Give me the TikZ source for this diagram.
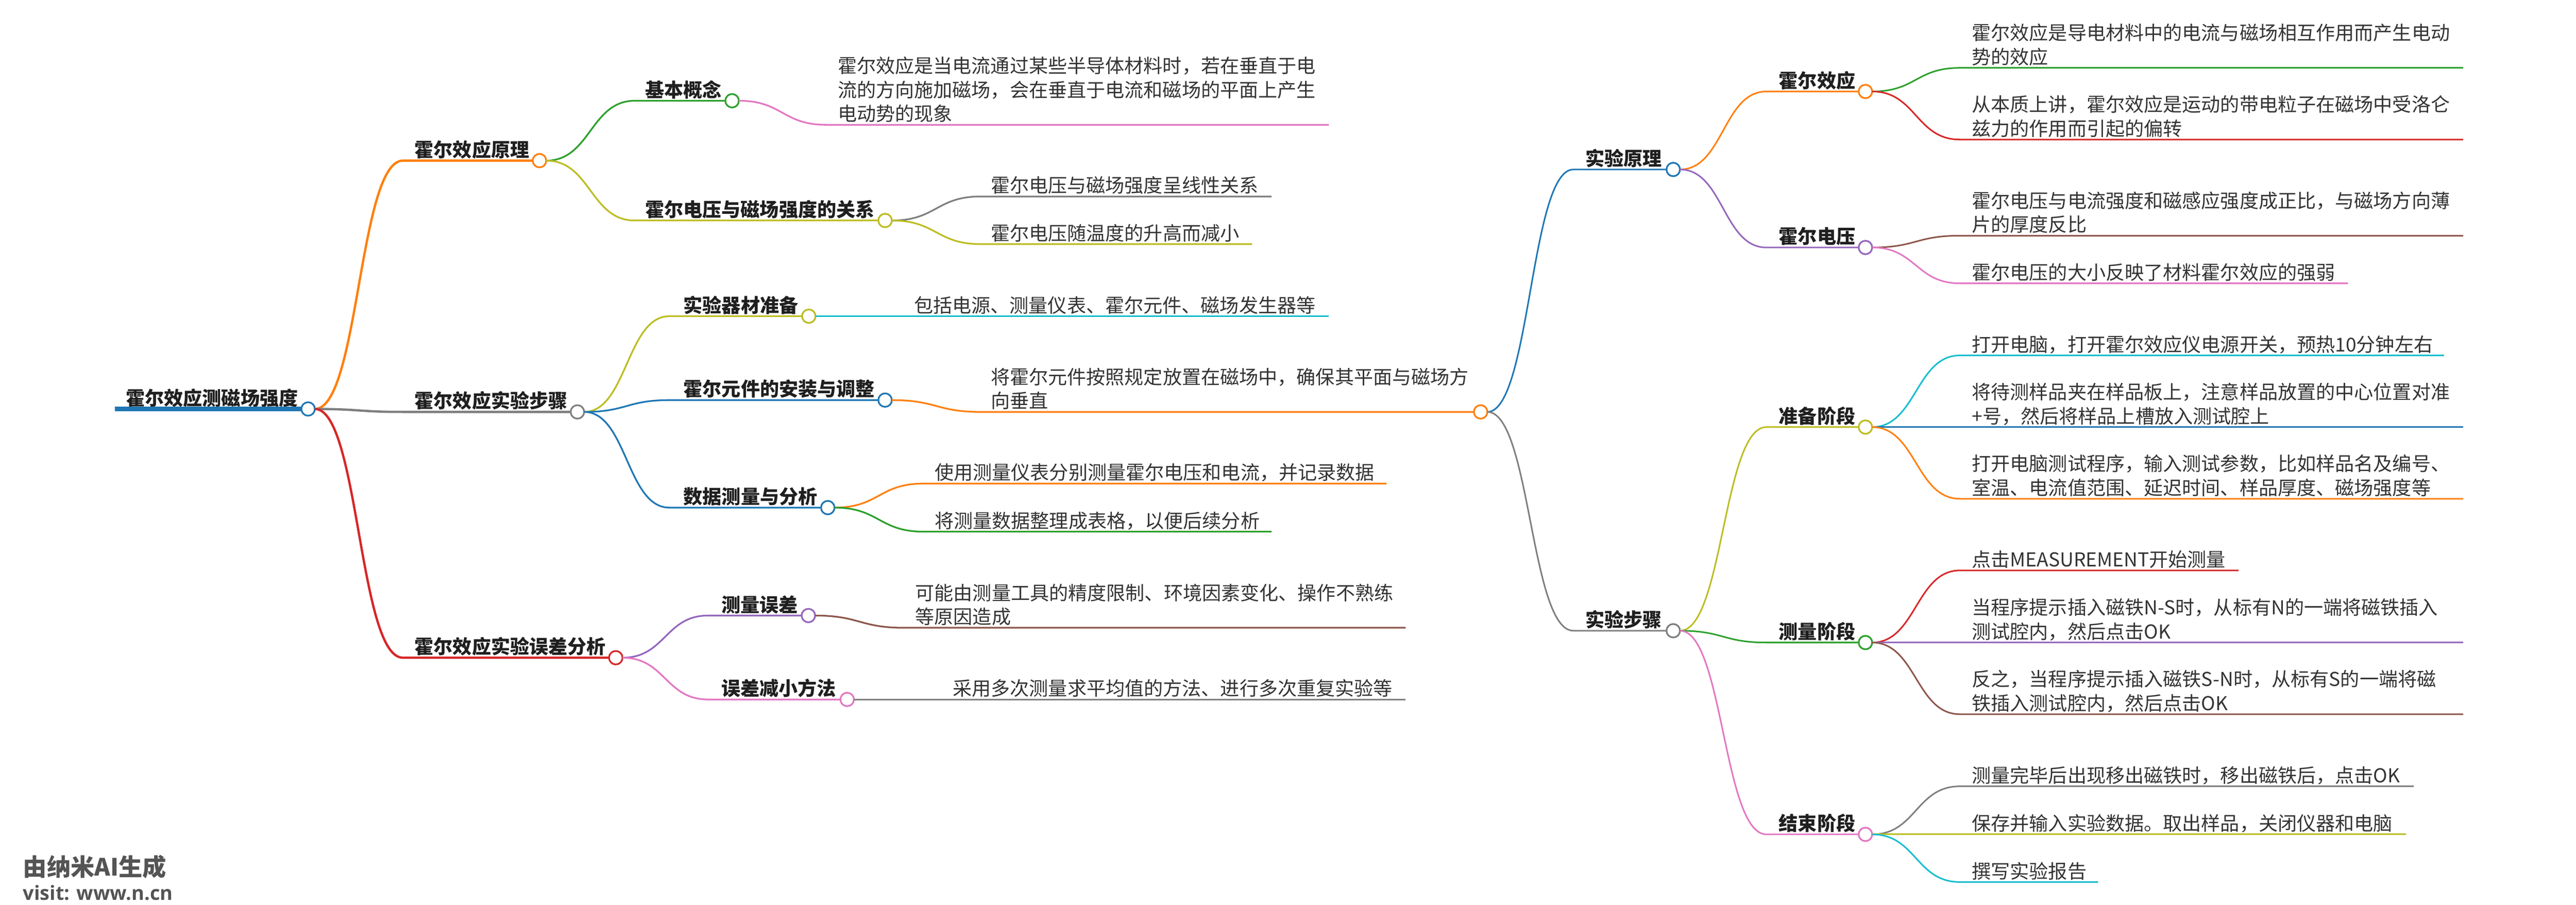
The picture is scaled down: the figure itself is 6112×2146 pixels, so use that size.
\documentclass[tikz,border=0pt]{standalone}
\usepackage{fontspec}
\setmainfont{Noto Sans CJK SC}
\newfontfamily\brandfont{Open Sans}
\usetikzlibrary{calc,positioning}

\definecolor{cblue}{HTML}{1F77B4}
\definecolor{corange}{HTML}{FF7F0E}
\definecolor{cgreen}{HTML}{2CA02C}
\definecolor{cred}{HTML}{D62728}
\definecolor{cpurple}{HTML}{9467BD}
\definecolor{cbrown}{HTML}{8C564B}
\definecolor{cpink}{HTML}{E377C2}
\definecolor{cgray}{HTML}{7F7F7F}
\definecolor{colive}{HTML}{BCBD22}
\definecolor{ccyan}{HTML}{17BECF}

\tikzset{
    dot/.style={circle,draw=#1,fill=white,line width=0.04cm,minimum size=0.32cm,inner sep=0pt,outer sep=0pt},
    head/.style={anchor=base west,inner sep=0pt,yshift=0.09cm,text=black!88,font=\fontsize{12.9pt}{16.2pt}\selectfont\bfseries},
    body/.style={anchor=base west,inner sep=0pt,yshift=0.09cm,text=black!80,align=left,font=\fontsize{12.9pt}{16.2pt}\selectfont},
    brand/.style={anchor=west,inner sep=0pt,text=black!67},
    lnA/.style={line width=0.055cm},
    lnB/.style={line width=0.04cm},
    lnC/.style={line width=0.037cm},
}

% curve out of a circle, then the straight underline
\newcommand{\branch}[4]{\draw[#1] (#2) .. controls ($(#2)!0.5!(#2 -| #3)$) and ($(#2 |- #3)!0.5!(#3)$) .. (#3) -- (#4);}

\begin{document}
\begin{tikzpicture}[x=0.01cm,y=-0.01cm]
    \useasboundingbox (0,0) rectangle (6112,2146);

    % circles
    \node[dot=cblue] (root) at (731,970) {};
    \node[dot=corange] (principle) at (1280,381) {};
    \node[dot=cgray] (steps) at (1370,977) {};
    \node[dot=cred] (errors) at (1461,1560) {};
    \node[dot=cgreen] (basic) at (1737,239) {};
    \node[dot=colive] (relation) at (2100,523) {};
    \node[dot=colive] (prep) at (1919,750) {};
    \node[dot=cblue] (mount) at (2100,949) {};
    \node[dot=cblue] (data) at (1964,1204) {};
    \node[dot=cpurple] (merr) at (1918,1460) {};
    \node[dot=cpink] (reduce) at (2010,1659) {};
    \node[dot=corange] (mid) at (3513,977) {};
    \node[dot=cblue] (theory) at (3970,402) {};
    \node[dot=cgray] (exper) at (3970,1496) {};
    \node[dot=corange] (effect) at (4426,217) {};
    \node[dot=cpurple] (volt) at (4426,587) {};
    \node[dot=colive] (ready) at (4426,1013) {};
    \node[dot=cgreen] (measure) at (4426,1524) {};
    \node[dot=cpink] (finish) at (4426,1979) {};

    % topic labels
    \node[head] (root-t) at (298,970) {霍尔效应测磁场强度};
    \node[head] (principle-t) at (983,381) {霍尔效应原理};
    \node[head] (steps-t) at (983,977) {霍尔效应实验步骤};
    \node[head] (errors-t) at (983,1560) {霍尔效应实验误差分析};
    \node[head] (basic-t) at (1530,239) {基本概念};
    \node[head] (relation-t) at (1530,523) {霍尔电压与磁场强度的关系};
    \node[head] (prep-t) at (1621,750) {实验器材准备};
    \node[head] (mount-t) at (1621,949) {霍尔元件的安装与调整};
    \node[head] (data-t) at (1621,1204) {数据测量与分析};
    \node[head] (merr-t) at (1711,1460) {测量误差};
    \node[head] (reduce-t) at (1711,1659) {误差减小方法};
    \node[head] (theory-t) at (3761,402) {实验原理};
    \node[head] (exper-t) at (3761,1496) {实验步骤};
    \node[head] (effect-t) at (4220,217) {霍尔效应};
    \node[head] (volt-t) at (4220,587) {霍尔电压};
    \node[head] (ready-t) at (4220,1013) {准备阶段};
    \node[head] (measure-t) at (4220,1524) {测量阶段};
    \node[head] (finish-t) at (4220,1979) {结束阶段};

    % left side texts
    \node[body] (basic-a) at (1987,296) {霍尔效应是当电流通过某些半导体材料时，若在垂直于电\\流的方向施加磁场，会在垂直于电流和磁场的平面上产生\\电动势的现象};
    \node[body] (relation-a) at (2350,466) {霍尔电压与磁场强度呈线性关系};
    \node[body] (relation-b) at (2350,579) {霍尔电压随温度的升高而减小};
    \node[body] (prep-a) at (2168,750) {包括电源、测量仪表、霍尔元件、磁场发生器等};
    \node[body] (mount-a) at (2350,977) {将霍尔元件按照规定放置在磁场中，确保其平面与磁场方\\向垂直};
    \node[body] (data-a) at (2217,1147) {使用测量仪表分别测量霍尔电压和电流，并记录数据};
    \node[body] (data-b) at (2217,1261) {将测量数据整理成表格，以便后续分析};
    \node[body] (merr-a) at (2171,1489) {可能由测量工具的精度限制、环境因素变化、操作不熟练\\等原因造成};
    \node[body] (reduce-a) at (2260,1659) {采用多次测量求平均值的方法、进行多次重复实验等};

    % right side texts
    \node[body] (effect-a) at (4678,161) {霍尔效应是导电材料中的电流与磁场相互作用而产生电动\\势的效应};
    \node[body] (effect-b) at (4678,331) {从本质上讲，霍尔效应是运动的带电粒子在磁场中受洛仑\\兹力的作用而引起的偏转};
    \node[body] (volt-a) at (4678,559) {霍尔电压与电流强度和磁感应强度成正比，与磁场方向薄\\片的厚度反比};
    \node[body] (volt-b) at (4678,672) {霍尔电压的大小反映了材料霍尔效应的强弱};
    \node[body] (ready-a) at (4678,843) {打开电脑，打开霍尔效应仪电源开关，预热10分钟左右};
    \node[body] (ready-b) at (4678,1013) {将待测样品夹在样品板上，注意样品放置的中心位置对准\\+号，然后将样品上槽放入测试腔上};
    \node[body] (ready-c) at (4678,1183) {打开电脑测试程序，输入测试参数，比如样品名及编号、\\室温、电流值范围、延迟时间、样品厚度、磁场强度等};
    \node[body] (measure-a) at (4678,1353) {点击MEASUREMENT开始测量};
    \node[body] (measure-b) at (4678,1524) {当程序提示插入磁铁N-S时，从标有N的一端将磁铁插入\\测试腔内，然后点击OK};
    \node[body] (measure-c) at (4678,1694) {反之，当程序提示插入磁铁S-N时，从标有S的一端将磁\\铁插入测试腔内，然后点击OK};
    \node[body] (finish-a) at (4678,1865) {测量完毕后出现移出磁铁时，移出磁铁后，点击OK};
    \node[body] (finish-b) at (4678,1979) {保存并输入实验数据。取出样品，关闭仪器和电脑};
    \node[body] (finish-c) at (4678,2092) {撰写实验报告};

    \node[brand,font=\fontsize{16.1pt}{18pt}\selectfont\bfseries] (brand-a) at (54,2056) {由纳米AI生成};
    \node[brand,font=\brandfont\bfseries\fontsize{13.2pt}{15pt}\selectfont] (brand-b) at (54,2117) {visit: www.n.cn};

    % free ends of the underlines
    \coordinate (root-s) at (272,970);
    \coordinate (principle-s) at (956,381);
    \coordinate (steps-s) at (956,977);
    \coordinate (errors-s) at (956,1560);
    \coordinate (basic-s) at (1506,239);
    \coordinate (relation-s) at (1506,523);
    \coordinate (prep-s) at (1588,750);
    \coordinate (mount-s) at (1588,949);
    \coordinate (data-s) at (1588,1204);
    \coordinate (merr-s) at (1680,1460);
    \coordinate (reduce-s) at (1680,1659);
    \coordinate (theory-s) at (3733,402);
    \coordinate (exper-s) at (3733,1496);
    \coordinate (effect-s) at (4191,217);
    \coordinate (volt-s) at (4191,587);
    \coordinate (ready-s) at (4191,1013);
    \coordinate (measure-s) at (4191,1524);
    \coordinate (finish-s) at (4191,1979);

    \draw[cblue,line width=0.11cm] (root-s) -- (root.west);

    \branch{corange,lnA}{root.east}{principle-s}{principle.west}
    \branch{cgray,lnA}{root.east}{steps-s}{steps.west}
    \branch{cred,lnA}{root.east}{errors-s}{errors.west}
    \branch{cgreen,lnB}{principle.east}{basic-s}{basic.west}
    \branch{colive,lnB}{principle.east}{relation-s}{relation.west}
    \branch{colive,lnB}{steps.east}{prep-s}{prep.west}
    \branch{cblue,lnB}{steps.east}{mount-s}{mount.west}
    \branch{cblue,lnB}{steps.east}{data-s}{data.west}
    \branch{cpurple,lnB}{errors.east}{merr-s}{merr.west}
    \branch{cpink,lnB}{errors.east}{reduce-s}{reduce.west}

    \coordinate (basic-as) at (1960,296);       \coordinate (basic-ae) at (3153,296);
    \coordinate (relation-as) at (2327,466);    \coordinate (relation-ae) at (3017,466);
    \coordinate (relation-bs) at (2327,579);    \coordinate (relation-be) at (2971,579);
    \coordinate (prep-as) at (2145,750);        \coordinate (prep-ae) at (3153,750);
    \coordinate (mount-as) at (2327,977);
    \coordinate (data-as) at (2191,1147);       \coordinate (data-ae) at (3290,1147);
    \coordinate (data-bs) at (2191,1261);       \coordinate (data-be) at (3017,1261);
    \coordinate (merr-as) at (2145,1489);       \coordinate (merr-ae) at (3335,1489);
    \coordinate (reduce-as) at (2236,1659);     \coordinate (reduce-ae) at (3335,1659);

    \branch{cpink,lnB}{basic.east}{basic-as}{basic-ae}
    \branch{cgray,lnB}{relation.east}{relation-as}{relation-ae}
    \branch{colive,lnB}{relation.east}{relation-bs}{relation-be}
    \branch{ccyan,lnB}{prep.east}{prep-as}{prep-ae}
    \branch{corange,lnB}{mount.east}{mount-as}{mid.west}
    \branch{corange,lnB}{data.east}{data-as}{data-ae}
    \branch{cgreen,lnB}{data.east}{data-bs}{data-be}
    \branch{cbrown,lnB}{merr.east}{merr-as}{merr-ae}
    \branch{cgray,lnB}{reduce.east}{reduce-as}{reduce-ae}

    \branch{cblue,lnC}{mid.east}{theory-s}{theory.west}
    \branch{cgray,lnC}{mid.east}{exper-s}{exper.west}
    \branch{corange,lnC}{theory.east}{effect-s}{effect.west}
    \branch{cpurple,lnC}{theory.east}{volt-s}{volt.west}
    \branch{colive,lnC}{exper.east}{ready-s}{ready.west}
    \branch{cgreen,lnC}{exper.east}{measure-s}{measure.west}
    \branch{cpink,lnC}{exper.east}{finish-s}{finish.west}

    \coordinate (effect-as) at (4650,161);      \coordinate (effect-ae) at (5844,161);
    \coordinate (effect-bs) at (4650,331);      \coordinate (effect-be) at (5844,331);
    \coordinate (volt-as) at (4650,559);        \coordinate (volt-ae) at (5844,559);
    \coordinate (volt-bs) at (4650,672);        \coordinate (volt-be) at (5571,672);
    \coordinate (ready-as) at (4650,843);       \coordinate (ready-ae) at (5799,843);
    \coordinate (ready-bs) at (4650,1013);      \coordinate (ready-be) at (5844,1013);
    \coordinate (ready-cs) at (4650,1183);      \coordinate (ready-ce) at (5844,1183);
    \coordinate (measure-as) at (4650,1353);    \coordinate (measure-ae) at (5311,1353);
    \coordinate (measure-bs) at (4650,1524);    \coordinate (measure-be) at (5844,1524);
    \coordinate (measure-cs) at (4650,1694);    \coordinate (measure-ce) at (5844,1694);
    \coordinate (finish-as) at (4650,1865);     \coordinate (finish-ae) at (5727,1865);
    \coordinate (finish-bs) at (4650,1979);     \coordinate (finish-be) at (5708,1979);
    \coordinate (finish-cs) at (4650,2092);     \coordinate (finish-ce) at (4978,2092);

    \branch{cgreen,lnC}{effect.east}{effect-as}{effect-ae}
    \branch{cred,lnC}{effect.east}{effect-bs}{effect-be}
    \branch{cbrown,lnC}{volt.east}{volt-as}{volt-ae}
    \branch{cpink,lnC}{volt.east}{volt-bs}{volt-be}
    \branch{ccyan,lnC}{ready.east}{ready-as}{ready-ae}
    \branch{cblue,lnC}{ready.east}{ready-bs}{ready-be}
    \branch{corange,lnC}{ready.east}{ready-cs}{ready-ce}
    \branch{cred,lnC}{measure.east}{measure-as}{measure-ae}
    \branch{cpurple,lnC}{measure.east}{measure-bs}{measure-be}
    \branch{cbrown,lnC}{measure.east}{measure-cs}{measure-ce}
    \branch{cgray,lnC}{finish.east}{finish-as}{finish-ae}
    \branch{colive,lnC}{finish.east}{finish-bs}{finish-be}
    \branch{ccyan,lnC}{finish.east}{finish-cs}{finish-ce}
\end{tikzpicture}
\end{document}
